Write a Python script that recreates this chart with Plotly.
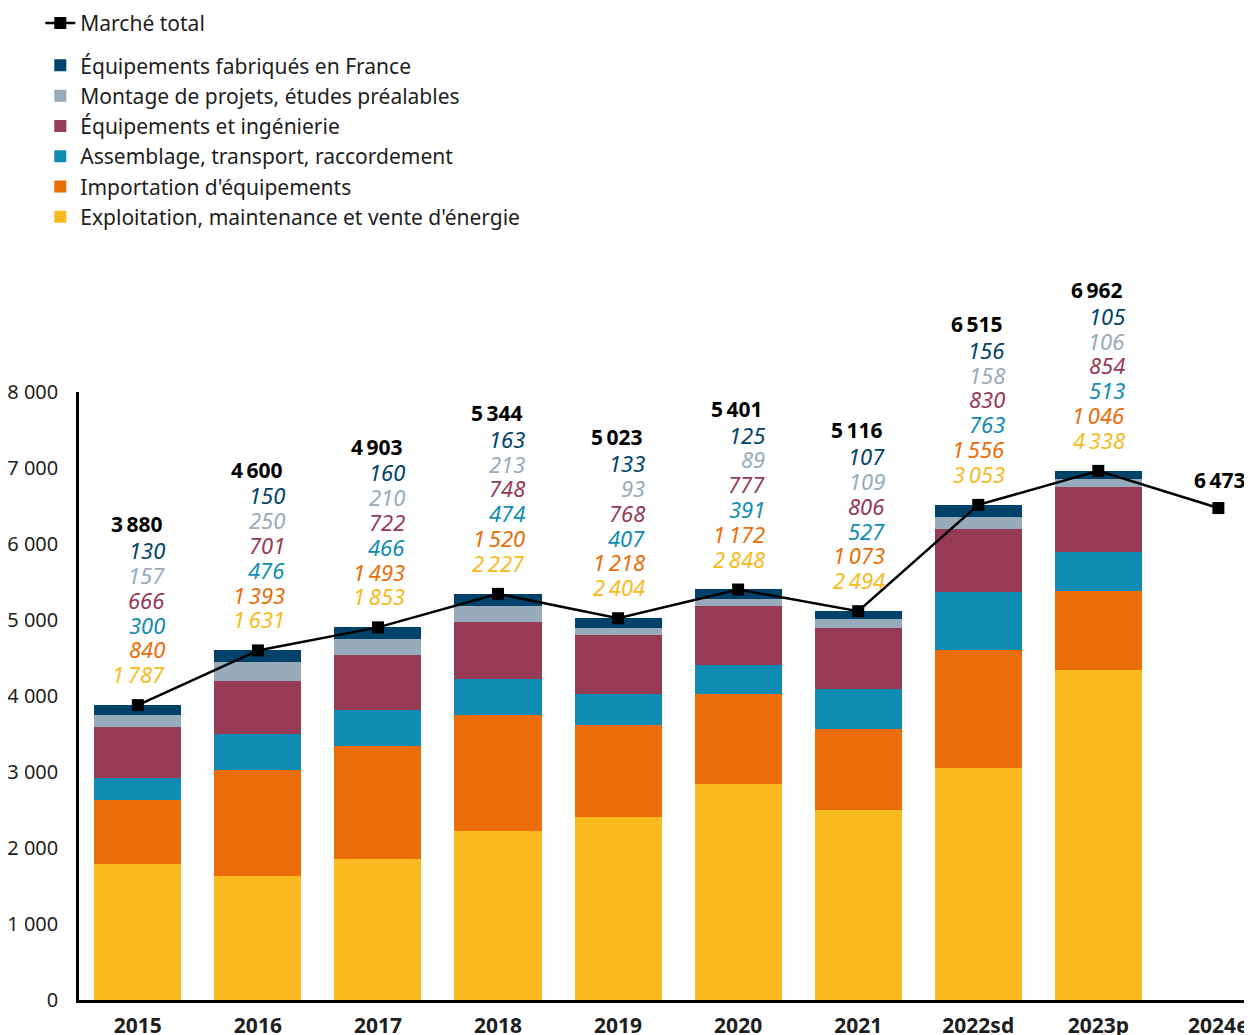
import plotly.graph_objects as go

categories = ["2015", "2016", "2017", "2018", "2019", "2020", "2021", "2022sd", "2023p", "2024e"]

exploitation = [1787, 1631, 1853, 2227, 2404, 2848, 2494, 3053, 4338, None]
importation = [840, 1393, 1493, 1520, 1218, 1172, 1073, 1556, 1046, None]
assemblage = [300, 476, 466, 474, 407, 391, 527, 763, 513, None]
ingenierie = [666, 701, 722, 748, 768, 777, 806, 830, 854, None]
montage = [157, 250, 210, 213, 93, 89, 109, 158, 106, None]
fabriques = [130, 150, 160, 163, 133, 125, 107, 156, 105, None]
total = [3880, 4600, 4903, 5344, 5023, 5401, 5116, 6515, 6962, 6473]

series = [
    ("Exploitation, maintenance et vente d'énergie", exploitation, "#F9BA20"),
    ("Importation d'équipements", importation, "#EA6D07"),
    ("Assemblage, transport, raccordement", assemblage, "#108CB3"),
    ("Équipements et ingénierie", ingenierie, "#963A55"),
    ("Montage de projets, études préalables", montage, "#97ABBA"),
    ("Équipements fabriqués en France", fabriques, "#00426A"),
]

FONT = "Noto Sans, Open Sans, DejaVu Sans, sans-serif"
TXT = "#1e1e1e"


def fmt(v):
    return f"{v:,}".replace(",", "\u202f")


fig = go.Figure()
for k, (name, vals, color) in enumerate(series):
    fig.add_trace(go.Bar(
        x=categories, y=vals, name=name, marker=dict(color=color, line=dict(width=0)),
        legendgroup="bars", legendrank=10 - k, hoverinfo="skip",
    ))

fig.add_trace(go.Scatter(
    x=categories, y=total, name="Marché total", mode="lines+markers",
    line=dict(color="black", width=2.5),
    marker=dict(symbol="square", size=12, color="black"),
    legendgroup="total", legendrank=1, cliponaxis=False,
))

# data labels (category index used as x position on the category axis)
BASE = 31
STEP = 24.8
for i, cat in enumerate(categories):
    if exploitation[i] is None:
        fig.add_annotation(
            x=i, y=total[i], xref="x", yref="y", text=f"<b>{fmt(total[i])}</b>",
            showarrow=False, yanchor="middle", xanchor="right", xshift=30, yshift=28,
            font=dict(family=FONT, size=21, color="black"),
        )
        continue
    for k, (name, vals, color) in enumerate(series):
        fig.add_annotation(
            x=i, y=total[i], xref="x", yref="y", text=f"<i>{fmt(vals[i])}</i>",
            showarrow=False, yanchor="middle", xanchor="right",
            xshift=29, yshift=BASE + k * STEP,
            font=dict(family=FONT, size=22, color=color),
        )
    fig.add_annotation(
        x=i, y=total[i], xref="x", yref="y", text=f"<b>{fmt(total[i])}</b>",
        showarrow=False, yanchor="middle", xanchor="right",
        xshift=27, yshift=BASE + 6 * STEP + 1,
        font=dict(family=FONT, size=21, color="black"),
    )

fig.update_layout(
    width=1244, height=1027,
    margin=dict(l=71, r=0, t=384, b=35, autoexpand=False),
    paper_bgcolor="white", plot_bgcolor="white",
    barmode="stack", bargap=0.275,
    separators=", ",
    font=dict(family=FONT, size=20, color=TXT),
    showlegend=True,
    legend=dict(
        x=-0.033, y=1.64, xanchor="left", yanchor="top",
        traceorder="grouped", tracegroupgap=12,
        font=dict(family=FONT, size=21, color=TXT),
        bgcolor="rgba(0,0,0,0)",
    ),
)
fig.update_xaxes(
    type="category", range=[-0.49, 9.28], showgrid=False,
    showline=True, linecolor="black", linewidth=2.5,
    ticks="", ticklabelstandoff=5,
    tickfont=dict(family=FONT, size=21, color=TXT, weight="bold"),
)
fig.update_yaxes(
    range=[0, 8000], dtick=1000, tickformat=",d", showgrid=False, zeroline=False,
    showline=True, linecolor="black", linewidth=2.5,
    ticks="", ticklabelstandoff=14,
    tickfont=dict(family=FONT, size=20, color=TXT),
)

fig.write_html("out.html")
